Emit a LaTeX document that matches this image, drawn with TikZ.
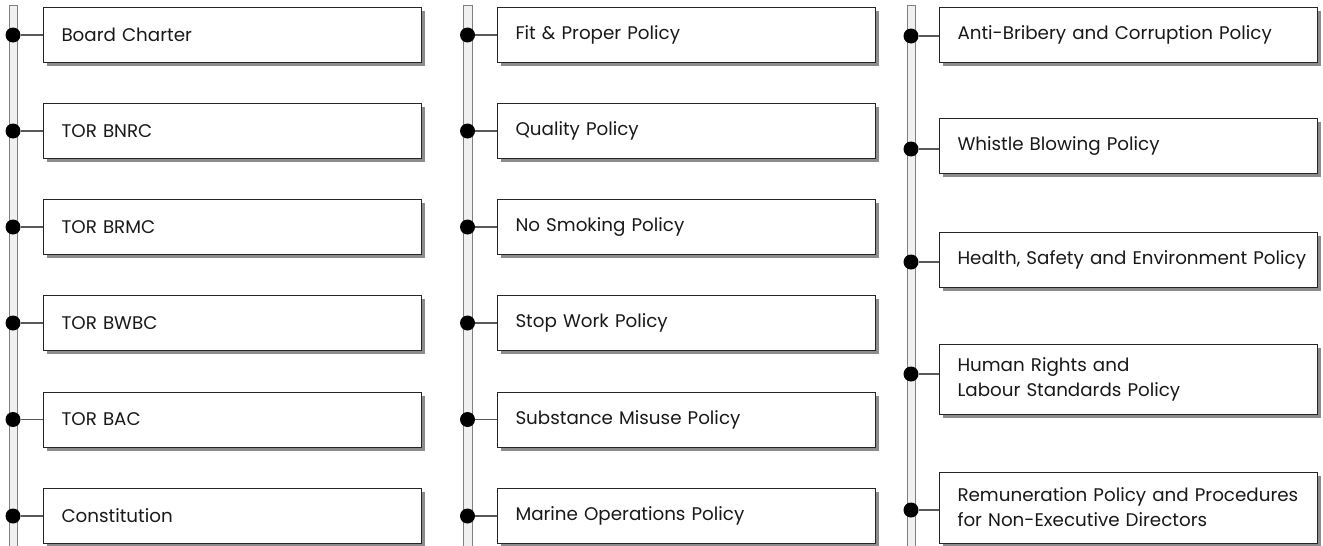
\documentclass[tikz,border=0pt]{standalone}
\usepackage{fontspec}
\setmainfont{Poppins}
\usetikzlibrary{shadows}
\begin{document}
\begin{tikzpicture}[x=1pt,y=-1pt,
  rail/.style={draw=black!50,fill=black!6,line width=0.9pt},
  dot/.style={circle,fill=black,inner sep=0pt,minimum size=15pt},
  link/.style={draw=black!65,line width=1.3pt},
  policy/.style={draw=black!85,line width=1pt,fill=white,anchor=west,
    minimum height=55pt,text width=342pt,inner xsep=18pt,align=left,
    font=\fontsize{18.3}{25}\selectfont,text=black!90,
    drop shadow={shadow xshift=3.5pt,shadow yshift=-3.5pt,fill=black!45,opacity=1}}]
\useasboundingbox (0,0) rectangle (1323,546);
\fill[white] (0,0) rectangle (1323,546);
% vertical rails
\draw[rail] (9,5) rectangle (17,550);
\draw[rail] (463,5) rectangle (472,550);
\draw[rail] (907,5) rectangle (915,550);
% first column
\foreach \i/\y/\t in {1/35/Board Charter,2/131/TOR BNRC,3/227/TOR BRMC,4/323/TOR BWBC,5/419.5/TOR BAC,6/516/Constitution}{
  \node[policy] (a\i) at (43,\y) {\t};
  \node[dot] (p\i) at (13,\y) {};
  \draw[link] (p\i) -- (p\i -| a\i.west);
}
% second column
\foreach \i/\y/\t in {1/35/Fit \& Proper Policy,2/131/Quality Policy,3/227/No Smoking Policy,4/323/Stop Work Policy,5/419.5/Substance Misuse Policy,6/516/Marine Operations Policy}{
  \node[policy] (b\i) at (497,\y) {\t};
  \node[dot] (q\i) at (467.5,\y) {};
  \draw[link] (q\i) -- (q\i -| b\i.west);
}
% third column
\node[policy] (c1) at (939,34.5) {Anti-Bribery and Corruption Policy};
\node[policy] (c2) at (939,146) {Whistle Blowing Policy};
\node[policy] (c3) at (939,259.5) {\mbox{Health, Safety and Environment Policy}};
\node[policy,minimum height=70pt] (c4) at (939,379) {Human Rights and\\Labour Standards Policy};
\node[policy,minimum height=71pt] (c5) at (939,507.5) {\mbox{Remuneration Policy and Procedures}\\for Non-Executive Directors};
\foreach \i/\y in {1/36,2/149,3/262,4/374,5/510}{
  \node[dot] (r\i) at (911,\y) {};
  \draw[link] (r\i) -- (r\i -| c\i.west);
}
\end{tikzpicture}
\end{document}
